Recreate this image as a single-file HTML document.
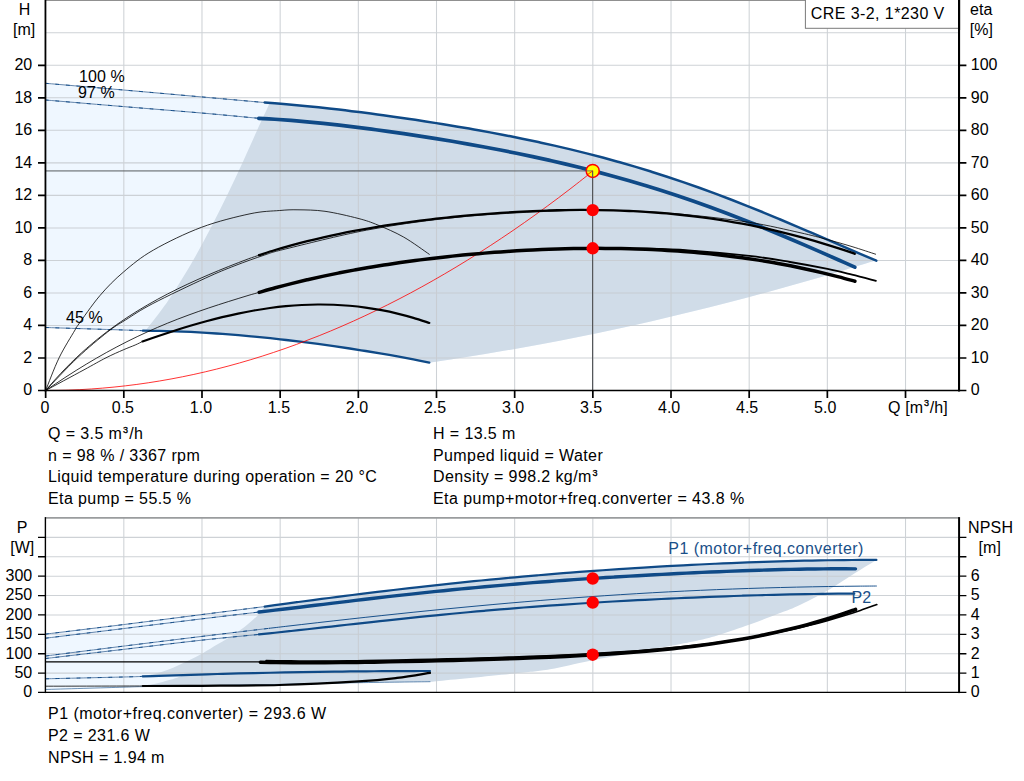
<!DOCTYPE html>
<html><head><meta charset="utf-8"><title>CRE 3-2 pump curve</title>
<style>
html,body{margin:0;padding:0;background:#fff;}
body{width:1024px;height:781px;overflow:hidden;font-family:"Liberation Sans",sans-serif;}
svg{display:block;}
</style></head><body>
<svg width="1024" height="781" viewBox="0 0 1024 781" font-family="'Liberation Sans', sans-serif" font-size="16" fill="#000">
<rect width="1024" height="781" fill="#fff"/>
<path d="M45.5 83.3C58.5 84.42 97.52 87.73 123.5 90C149.48 92.27 177.87 94.81 201.4 96.9C224.93 98.99 254.15 101.61 264.7 102.55L264.7 102.55C267.38 102.75 275.43 103.32 280.79 103.75C286.16 104.18 291.52 104.65 296.89 105.15C302.25 105.65 307.62 106.18 312.98 106.74C318.35 107.29 323.71 107.87 329.08 108.48C334.44 109.08 339.81 109.71 345.17 110.35C350.54 111 355.9 111.67 361.27 112.35C366.63 113.04 372 113.75 377.36 114.47C382.73 115.19 388.09 115.93 393.46 116.69C398.82 117.45 404.19 118.22 409.55 119.02C414.92 119.81 420.28 120.62 425.65 121.45C431.01 122.28 436.38 123.13 441.74 124C447.11 124.86 452.47 125.75 457.84 126.66C463.2 127.56 468.57 128.49 473.93 129.44C479.3 130.39 484.66 131.37 490.03 132.36C495.39 133.36 500.76 134.38 506.12 135.43C511.49 136.48 516.85 137.55 522.22 138.65C527.58 139.75 532.95 140.88 538.31 142.05C543.68 143.21 549.04 144.4 554.41 145.62C559.77 146.85 565.14 148.1 570.5 149.4C575.86 150.69 581.23 152.01 586.59 153.38C591.96 154.74 597.32 156.14 602.69 157.57C608.05 159.01 613.42 160.49 618.78 162C624.15 163.52 629.51 165.07 634.88 166.66C640.24 168.26 645.61 169.89 650.97 171.57C656.34 173.25 661.7 174.96 667.07 176.72C672.43 178.48 677.8 180.28 683.16 182.12C688.53 183.96 693.89 185.84 699.26 187.76C704.62 189.67 709.99 191.63 715.35 193.63C720.72 195.63 726.08 197.66 731.45 199.73C736.81 201.8 742.18 203.91 747.54 206.05C752.91 208.19 758.27 210.36 763.64 212.56C769 214.75 774.37 216.98 779.73 219.23C785.1 221.48 790.46 223.76 795.83 226.04C801.19 228.33 806.56 230.64 811.92 232.96C817.29 235.27 822.65 237.61 828.02 239.93C833.38 242.26 838.75 244.6 844.11 246.92C849.48 249.24 854.84 251.57 860.21 253.86C865.57 256.16 873.62 259.56 876.3 260.7L876.28 260.23C870.08 262.13 851.45 267.93 839.04 271.65C826.62 275.37 814.2 279 801.79 282.55C789.37 286.09 776.96 289.55 764.54 292.92C752.12 296.29 739.71 299.57 727.29 302.77C714.88 305.97 702.46 309.08 690.04 312.1C677.63 315.12 665.21 318.05 652.8 320.9C640.38 323.75 627.96 326.5 615.55 329.18C603.13 331.85 590.72 334.43 578.3 336.93C565.88 339.43 553.47 341.84 541.05 344.16C528.64 346.48 516.22 348.72 503.8 350.87C491.39 353.02 478.97 355.08 466.56 357.05C454.14 359.02 435.52 361.76 429.31 362.71L429.3 362.59C426.65 362.06 418.7 360.46 413.39 359.44C408.09 358.42 402.79 357.43 397.49 356.47C392.19 355.5 386.89 354.57 381.58 353.66C376.28 352.75 370.98 351.87 365.68 351.01C360.38 350.15 355.07 349.32 349.77 348.51C344.47 347.7 339.17 346.92 333.87 346.16C328.56 345.4 323.26 344.67 317.96 343.96C312.66 343.25 307.36 342.56 302.06 341.9C296.75 341.24 291.45 340.6 286.15 339.99C280.85 339.37 275.55 338.79 270.24 338.23C264.94 337.67 259.64 337.13 254.34 336.62C249.04 336.12 243.74 335.64 238.43 335.19C233.13 334.73 227.83 334.31 222.53 333.92C217.23 333.53 211.92 333.17 206.62 332.85C201.32 332.52 196.02 332.23 190.72 331.97C185.41 331.71 180.11 331.49 174.81 331.31C169.51 331.13 164.21 330.98 158.91 330.88C153.6 330.78 145.65 330.74 143 330.71L143 330.71C139.75 330.59 139.75 330.53 123.5 330C107.25 329.47 58.5 327.92 45.5 327.5Z" fill="#eff7ff"/>
<path d="M268.9 102.7C270.88 102.87 276.13 103.34 280.79 103.75C285.46 104.16 291.52 104.65 296.89 105.15C302.25 105.65 307.62 106.18 312.98 106.74C318.35 107.29 323.71 107.87 329.08 108.48C334.44 109.08 339.81 109.71 345.17 110.35C350.54 111 355.9 111.67 361.27 112.35C366.63 113.04 372 113.75 377.36 114.47C382.73 115.19 388.09 115.93 393.46 116.69C398.82 117.45 404.19 118.22 409.55 119.02C414.92 119.81 420.28 120.62 425.65 121.45C431.01 122.28 436.38 123.13 441.74 124C447.11 124.86 452.47 125.75 457.84 126.66C463.2 127.56 468.57 128.49 473.93 129.44C479.3 130.39 484.66 131.37 490.03 132.36C495.39 133.36 500.76 134.38 506.12 135.43C511.49 136.48 516.85 137.55 522.22 138.65C527.58 139.75 532.95 140.88 538.31 142.05C543.68 143.21 549.04 144.4 554.41 145.62C559.77 146.85 565.14 148.1 570.5 149.4C575.86 150.69 581.23 152.01 586.59 153.38C591.96 154.74 597.32 156.14 602.69 157.57C608.05 159.01 613.42 160.49 618.78 162C624.15 163.52 629.51 165.07 634.88 166.66C640.24 168.26 645.61 169.89 650.97 171.57C656.34 173.25 661.7 174.96 667.07 176.72C672.43 178.48 677.8 180.28 683.16 182.12C688.53 183.96 693.89 185.84 699.26 187.76C704.62 189.67 709.99 191.63 715.35 193.63C720.72 195.63 726.08 197.66 731.45 199.73C736.81 201.8 742.18 203.91 747.54 206.05C752.91 208.19 758.27 210.36 763.64 212.56C769 214.75 774.37 216.98 779.73 219.23C785.1 221.48 790.46 223.76 795.83 226.04C801.19 228.33 806.56 230.64 811.92 232.96C817.29 235.27 822.65 237.61 828.02 239.93C833.38 242.26 838.75 244.6 844.11 246.92C849.48 249.24 854.84 251.57 860.21 253.86C865.57 256.16 873.62 259.56 876.3 260.7L876.28 260.23C870.08 262.13 851.45 267.93 839.04 271.65C826.62 275.37 814.2 279 801.79 282.55C789.37 286.09 776.96 289.55 764.54 292.92C752.12 296.29 739.71 299.57 727.29 302.77C714.88 305.97 702.46 309.08 690.04 312.1C677.63 315.12 665.21 318.05 652.8 320.9C640.38 323.75 627.96 326.5 615.55 329.18C603.13 331.85 590.72 334.43 578.3 336.93C565.88 339.43 553.47 341.84 541.05 344.16C528.64 346.48 516.22 348.72 503.8 350.87C491.39 353.02 478.97 355.08 466.56 357.05C454.14 359.02 435.52 361.76 429.31 362.71L429.3 362.59C426.65 362.06 418.7 360.46 413.39 359.44C408.09 358.42 402.79 357.43 397.49 356.47C392.19 355.5 386.89 354.57 381.58 353.66C376.28 352.75 370.98 351.87 365.68 351.01C360.38 350.15 355.07 349.32 349.77 348.51C344.47 347.7 339.17 346.92 333.87 346.16C328.56 345.4 323.26 344.67 317.96 343.96C312.66 343.25 307.36 342.56 302.06 341.9C296.75 341.24 291.45 340.6 286.15 339.99C280.85 339.37 275.55 338.79 270.24 338.23C264.94 337.67 259.64 337.13 254.34 336.62C249.04 336.12 243.74 335.64 238.43 335.19C233.13 334.73 227.83 334.31 222.53 333.92C217.23 333.53 211.92 333.17 206.62 332.85C201.32 332.52 196.02 332.23 190.72 331.97C185.41 331.71 180.11 331.49 174.81 331.31C169.51 331.13 163.77 330.98 158.91 330.88C154.04 330.78 147.82 330.73 145.6 330.7L145.4 330.8C147.77 327.75 154.95 318.8 159.6 312.5C164.25 306.2 167.73 301.67 173.3 293C178.88 284.33 186.82 271.33 193.05 260.5C199.28 249.67 205.04 238.83 210.7 228C216.36 217.17 221.72 206.33 227 195.5C232.28 184.67 237.39 173.83 242.4 163C247.41 152.17 252.73 139.98 257.05 130.5C261.37 121.02 266.33 110.65 268.3 106.1C270.27 101.55 268.8 103.68 268.9 103.2Z" fill="#d0dce8"/>
<path d="M45.6 634.1C58.55 632.52 97.32 627.85 123.3 624.6C149.28 621.35 177.93 617.61 201.5 614.6C225.07 611.59 254.17 607.9 264.7 606.56L264.7 686L270 684.6C258.58 684.77 222.6 685.27 201.5 685.6C180.4 685.93 156.43 686.33 143.4 686.6C130.37 686.87 139.6 686.72 123.3 687.2C107 687.68 58.55 689.12 45.6 689.5Z" fill="#eff7ff"/>
<path d="M264.7 606.56C267.38 606.19 275.43 605.1 280.8 604.38C286.16 603.65 291.53 602.93 296.89 602.21C302.26 601.5 307.63 600.78 312.99 600.08C318.36 599.37 323.72 598.67 329.09 597.97C334.46 597.28 339.82 596.59 345.19 595.91C350.55 595.23 355.92 594.55 361.28 593.89C366.65 593.22 372.02 592.56 377.38 591.91C382.75 591.26 388.11 590.62 393.48 589.99C398.84 589.35 404.21 588.73 409.58 588.11C414.94 587.5 420.31 586.89 425.67 586.3C431.04 585.7 436.41 585.12 441.77 584.54C447.14 583.96 452.5 583.4 457.87 582.84C463.23 582.28 468.6 581.74 473.97 581.2C479.33 580.66 484.7 580.14 490.06 579.62C495.43 579.1 500.79 578.6 506.16 578.1C511.53 577.6 516.89 577.12 522.26 576.64C527.62 576.17 532.99 575.7 538.36 575.24C543.72 574.79 549.09 574.34 554.45 573.9C559.82 573.47 565.18 573.04 570.55 572.63C575.92 572.21 581.28 571.8 586.65 571.41C592.01 571.01 597.38 570.62 602.74 570.24C608.11 569.87 613.48 569.5 618.84 569.14C624.21 568.78 629.57 568.43 634.94 568.09C640.31 567.75 645.67 567.43 651.04 567.11C656.4 566.79 661.77 566.47 667.13 566.17C672.5 565.87 677.87 565.58 683.23 565.3C688.6 565.02 693.96 564.75 699.33 564.48C704.69 564.22 710.06 563.97 715.43 563.73C720.79 563.48 726.16 563.25 731.52 563.03C736.89 562.81 742.26 562.6 747.62 562.4C752.99 562.19 758.35 562 763.72 561.82C769.08 561.65 774.45 561.48 779.82 561.32C785.18 561.17 790.55 561.02 795.91 560.89C801.28 560.76 806.64 560.64 812.01 560.53C817.38 560.42 822.74 560.33 828.11 560.25C833.47 560.17 838.84 560.11 844.21 560.06C849.57 560.01 854.94 559.97 860.3 559.96C865.67 559.94 873.72 559.95 876.4 559.95L876.4 559.9C872.92 562.05 863.68 567.65 855.5 572.8C847.32 577.95 836.93 585.27 827.3 590.8C817.67 596.33 805.9 602.17 797.7 606C789.5 609.83 786.08 610.73 778.1 613.8C770.12 616.87 759.57 620.92 749.8 624.4C740.03 627.88 727.8 632.1 719.5 634.7C711.2 637.3 708.1 638.15 700 640C691.9 641.85 688.78 642.43 670.9 645.8C653.02 649.17 612.85 656.28 592.7 660.2C572.55 664.12 563.03 667.08 550 669.3C536.97 671.52 533.45 671.52 514.5 673.5C495.55 675.48 450.38 679.82 436.3 681.2C422.22 682.58 431.05 681.7 430 681.8L430 681.7C418.07 681.87 385.07 682.22 358.4 682.7C331.73 683.18 296.15 684.12 270 684.6C243.85 685.08 222.6 685.27 201.5 685.6C180.4 685.93 153.08 686.43 143.4 686.6L143.4 686.6C146.07 685.97 154.77 683.97 159.4 682.8C164.03 681.63 167.28 680.83 171.2 679.6C175.12 678.37 180.95 676.1 182.9 675.4L182.9 675.4C176.22 675.57 149.48 676.23 142.8 676.4L142.8 676.4C144.92 675.93 151.43 674.65 155.5 673.6C159.57 672.55 163.33 671.53 167.25 670.1C171.17 668.67 175.09 666.77 179 665C182.91 663.23 186.67 661.5 190.7 659.5C194.73 657.5 198.65 655.57 203.2 653C207.75 650.43 212.78 647.23 218 644.1C223.22 640.97 229.58 637.45 234.5 634.2C239.42 630.95 243.5 627.87 247.5 624.6C251.5 621.33 255.63 617.62 258.5 614.6C261.37 611.58 263.67 607.85 264.7 606.5Z" fill="#d0dce8"/>
<path d="M123.82 0V390.5M123.82 517.9V692.5M201.99 0V390.5M201.99 517.9V692.5M280.16 0V390.5M280.16 517.9V692.5M358.33 0V390.5M358.33 517.9V692.5M436.5 0V390.5M436.5 517.9V692.5M514.67 0V390.5M514.67 517.9V692.5M592.84 0V390.5M592.84 517.9V692.5M671.01 0V390.5M671.01 517.9V692.5M749.18 0V390.5M749.18 517.9V692.5M827.35 0V390.5M827.35 517.9V692.5M905.52 0V390.5M905.52 517.9V692.5M45.65 357.98H959M45.65 325.46H959M45.65 292.94H959M45.65 260.42H959M45.65 227.9H959M45.65 195.38H959M45.65 162.86H959M45.65 130.34H959M45.65 97.82H959M45.65 65.3H959M45.65 32.78H959M45.65 673.11H959M45.65 653.72H959M45.65 634.33H959M45.65 614.94H959M45.65 595.55H959M45.65 576.16H959M45.65 556.77H959M45.65 537.38H959" stroke="#c6cbcf" stroke-width="1.05" fill="none" opacity="0.86"/>
<path d="M45.65 170.85H592.6" stroke="#5c6064" stroke-opacity="0.6" stroke-width="1.6" fill="none"/>
<path d="M592.6 170.85V390.5" stroke="#54575a" stroke-width="1.2" fill="none"/>
<path d="M45.5 83.3C58.5 84.42 97.52 87.73 123.5 90C149.48 92.27 177.87 94.81 201.4 96.9C224.93 98.99 254.15 101.61 264.7 102.55" stroke="#5d7fa8" stroke-width="0.95" fill="none" stroke-linecap="round" stroke-linejoin="round"/>
<path d="M45.5 83.3C58.5 84.42 97.52 87.73 123.5 90C149.48 92.27 177.87 94.81 201.4 96.9C224.93 98.99 254.15 101.61 264.7 102.55" stroke="#0f4a87" stroke-width="0.95" fill="none" stroke-linecap="round" stroke-linejoin="round" stroke-dasharray="3 7.5"/>
<path d="M45.5 100C58.5 101.1 97.52 104.43 123.5 106.6C149.48 108.77 178.85 111.04 201.4 113C223.95 114.96 249.23 117.44 258.8 118.33" stroke="#5d7fa8" stroke-width="0.95" fill="none" stroke-linecap="round" stroke-linejoin="round"/>
<path d="M45.5 100C58.5 101.1 97.52 104.43 123.5 106.6C149.48 108.77 178.85 111.04 201.4 113C223.95 114.96 249.23 117.44 258.8 118.33" stroke="#0f4a87" stroke-width="0.95" fill="none" stroke-linecap="round" stroke-linejoin="round" stroke-dasharray="3 7.5"/>
<path d="M45.5 327.5C58.5 327.92 107.25 329.47 123.5 330C139.75 330.53 139.75 330.59 143 330.71" stroke="#5d7fa8" stroke-width="0.95" fill="none" stroke-linecap="round" stroke-linejoin="round"/>
<path d="M45.5 327.5C58.5 327.92 107.25 329.47 123.5 330C139.75 330.53 139.75 330.59 143 330.71" stroke="#0f4a87" stroke-width="0.95" fill="none" stroke-linecap="round" stroke-linejoin="round" stroke-dasharray="3 7.5"/>
<path d="M264.7 102.55C267.38 102.75 275.43 103.32 280.79 103.75C286.16 104.18 291.52 104.65 296.89 105.15C302.25 105.65 307.62 106.18 312.98 106.74C318.35 107.29 323.71 107.87 329.08 108.48C334.44 109.08 339.81 109.71 345.17 110.35C350.54 111 355.9 111.67 361.27 112.35C366.63 113.04 372 113.75 377.36 114.47C382.73 115.19 388.09 115.93 393.46 116.69C398.82 117.45 404.19 118.22 409.55 119.02C414.92 119.81 420.28 120.62 425.65 121.45C431.01 122.28 436.38 123.13 441.74 124C447.11 124.86 452.47 125.75 457.84 126.66C463.2 127.56 468.57 128.49 473.93 129.44C479.3 130.39 484.66 131.37 490.03 132.36C495.39 133.36 500.76 134.38 506.12 135.43C511.49 136.48 516.85 137.55 522.22 138.65C527.58 139.75 532.95 140.88 538.31 142.05C543.68 143.21 549.04 144.4 554.41 145.62C559.77 146.85 565.14 148.1 570.5 149.4C575.86 150.69 581.23 152.01 586.59 153.38C591.96 154.74 597.32 156.14 602.69 157.57C608.05 159.01 613.42 160.49 618.78 162C624.15 163.52 629.51 165.07 634.88 166.66C640.24 168.26 645.61 169.89 650.97 171.57C656.34 173.25 661.7 174.96 667.07 176.72C672.43 178.48 677.8 180.28 683.16 182.12C688.53 183.96 693.89 185.84 699.26 187.76C704.62 189.67 709.99 191.63 715.35 193.63C720.72 195.63 726.08 197.66 731.45 199.73C736.81 201.8 742.18 203.91 747.54 206.05C752.91 208.19 758.27 210.36 763.64 212.56C769 214.75 774.37 216.98 779.73 219.23C785.1 221.48 790.46 223.76 795.83 226.04C801.19 228.33 806.56 230.64 811.92 232.96C817.29 235.27 822.65 237.61 828.02 239.93C833.38 242.26 838.75 244.6 844.11 246.92C849.48 249.24 854.84 251.57 860.21 253.86C865.57 256.16 873.62 259.56 876.3 260.7" stroke="#0f4a87" stroke-width="2.5" fill="none" stroke-linecap="round" stroke-linejoin="round"/>
<path d="M258.8 118.33C261.48 118.49 269.54 118.91 274.91 119.26C280.28 119.61 285.65 120.01 291.02 120.44C296.39 120.87 301.75 121.34 307.12 121.84C312.49 122.34 317.86 122.88 323.23 123.44C328.6 124 333.97 124.59 339.34 125.2C344.71 125.82 350.08 126.46 355.45 127.12C360.82 127.78 366.19 128.47 371.56 129.17C376.93 129.88 382.3 130.61 387.66 131.36C393.03 132.11 398.4 132.87 403.77 133.66C409.14 134.45 414.51 135.26 419.88 136.08C425.25 136.91 430.62 137.76 435.99 138.62C441.36 139.49 446.73 140.38 452.1 141.28C457.47 142.19 462.84 143.12 468.21 144.07C473.57 145.02 478.94 145.99 484.31 146.99C489.68 147.98 495.05 149 500.42 150.04C505.79 151.09 511.16 152.15 516.53 153.25C521.9 154.34 527.27 155.46 532.64 156.62C538.01 157.77 543.38 158.94 548.75 160.15C554.12 161.36 559.48 162.6 564.85 163.87C570.22 165.14 575.59 166.44 580.96 167.78C586.33 169.12 591.7 170.49 597.07 171.89C602.44 173.3 607.81 174.74 613.18 176.22C618.55 177.7 623.92 179.21 629.29 180.77C634.66 182.32 640.03 183.92 645.39 185.55C650.76 187.18 656.13 188.85 661.5 190.56C666.87 192.27 672.24 194.02 677.61 195.81C682.98 197.6 688.35 199.43 693.72 201.3C699.09 203.17 704.46 205.08 709.83 207.03C715.2 208.98 720.57 210.97 725.94 212.99C731.3 215.02 736.67 217.08 742.04 219.18C747.41 221.28 752.78 223.41 758.15 225.58C763.52 227.74 768.89 229.94 774.26 232.17C779.63 234.4 785 236.66 790.37 238.94C795.74 241.22 801.11 243.53 806.48 245.86C811.85 248.18 817.21 250.53 822.58 252.89C827.95 255.25 833.32 257.63 838.69 260.01C844.06 262.39 852.12 265.97 854.8 267.17" stroke="#0f4a87" stroke-width="3.7" fill="none" stroke-linecap="round" stroke-linejoin="round"/>
<path d="M143 330.71C145.65 330.74 153.6 330.78 158.91 330.88C164.21 330.98 169.51 331.13 174.81 331.31C180.11 331.49 185.41 331.71 190.72 331.97C196.02 332.23 201.32 332.52 206.62 332.85C211.92 333.17 217.23 333.53 222.53 333.92C227.83 334.31 233.13 334.73 238.43 335.19C243.74 335.64 249.04 336.12 254.34 336.62C259.64 337.13 264.94 337.67 270.24 338.23C275.55 338.79 280.85 339.37 286.15 339.99C291.45 340.6 296.75 341.24 302.06 341.9C307.36 342.56 312.66 343.25 317.96 343.96C323.26 344.67 328.56 345.4 333.87 346.16C339.17 346.92 344.47 347.7 349.77 348.51C355.07 349.32 360.38 350.15 365.68 351.01C370.98 351.87 376.28 352.75 381.58 353.66C386.89 354.57 392.19 355.5 397.49 356.47C402.79 357.43 408.09 358.42 413.39 359.44C418.7 360.46 426.65 362.06 429.3 362.59" stroke="#0f4a87" stroke-width="2.3" fill="none" stroke-linecap="round" stroke-linejoin="round"/>
<path d="M45.65 390.5C49.45 390.44 60.85 390.37 68.45 390.12C76.05 389.87 83.65 389.48 91.25 388.98C98.85 388.47 106.45 387.83 114.05 387.07C121.65 386.31 129.25 385.42 136.85 384.41C144.45 383.39 152.05 382.25 159.65 380.98C167.25 379.71 174.85 378.31 182.45 376.79C190.05 375.27 197.65 373.62 205.25 371.84C212.85 370.06 220.45 368.16 228.05 366.12C235.65 364.09 243.25 361.94 250.85 359.65C258.45 357.37 266.05 354.95 273.65 352.41C281.25 349.88 288.85 347.21 296.45 344.42C304.05 341.62 311.65 338.7 319.25 335.66C326.84 332.61 334.44 329.44 342.04 326.13C349.64 322.83 357.24 319.41 364.84 315.85C372.44 312.3 380.04 308.62 387.64 304.81C395.24 301 402.84 297.06 410.44 293C418.04 288.94 425.64 284.75 433.24 280.43C440.84 276.12 448.44 271.67 456.04 267.1C463.64 262.53 471.24 257.83 478.84 253.01C486.44 248.19 494.04 243.23 501.64 238.16C509.24 233.08 516.84 227.87 524.44 222.54C532.04 217.21 539.64 211.75 547.24 206.16C554.84 200.58 562.44 194.87 570.04 189.03C577.64 183.19 589.04 174.11 592.84 171.13" stroke="#ff0000" stroke-width="0.8" fill="none" stroke-linecap="round" stroke-linejoin="round"/>
<path d="M45.65 390.5C47.89 385.05 54.21 367.88 59.1 357.8C63.99 347.72 71.88 335.4 75 330C78.12 324.6 73.63 331.15 77.8 325.4C81.97 319.65 92.38 304.4 100 295.5C107.62 286.6 114.58 279.58 123.5 272C132.42 264.42 140.5 257.45 153.5 250C166.5 242.55 185.42 233.33 201.5 227.3C217.58 221.27 236.97 216.6 250 213.8C263.03 211 271.7 211.17 279.7 210.5C287.7 209.83 290.45 209.67 298 209.8C305.55 209.93 314.98 209.87 325 211.3C335.02 212.73 349.27 216.1 358.1 218.4C366.93 220.7 370.4 221.98 378 225.1C385.6 228.22 395.15 232.23 403.7 237.1C412.25 241.97 425.03 251.43 429.3 254.3" stroke="#000" stroke-width="0.8" fill="none" stroke-linecap="round" stroke-linejoin="round"/>
<path d="M45.65 390.5C52.04 387.05 73.94 375.25 84 369.8C94.06 364.35 99.43 361.13 106 357.8C112.57 354.47 118.53 351.93 123.4 349.8C128.27 347.67 132.02 346.39 135.2 345C138.38 343.61 141.28 342.06 142.5 341.47" stroke="#000" stroke-width="0.8" fill="none" stroke-linecap="round" stroke-linejoin="round"/>
<path d="M142.5 341.47C145.16 340.55 153.12 337.75 158.43 335.95C163.74 334.16 169.06 332.4 174.37 330.7C179.68 329.01 184.99 327.35 190.3 325.78C195.61 324.2 200.92 322.68 206.23 321.24C211.54 319.8 216.86 318.43 222.17 317.15C227.48 315.87 232.79 314.66 238.1 313.55C243.41 312.44 248.72 311.41 254.03 310.49C259.34 309.57 264.66 308.74 269.97 308.02C275.28 307.3 280.59 306.67 285.9 306.17C291.21 305.67 296.52 305.27 301.83 304.99C307.14 304.71 312.46 304.55 317.77 304.51C323.08 304.47 328.39 304.55 333.7 304.76C339.01 304.97 344.32 305.31 349.63 305.77C354.94 306.24 360.26 306.83 365.57 307.57C370.88 308.3 376.19 309.16 381.5 310.16C386.81 311.16 392.12 312.3 397.43 313.58C402.74 314.86 408.06 316.27 413.37 317.83C418.68 319.39 426.64 322.08 429.3 322.93" stroke="#000" stroke-width="2.2" fill="none" stroke-linecap="round" stroke-linejoin="round"/>
<path d="M45.65 390.5C50.94 385.05 67.09 367.55 77.41 357.8C87.74 348.05 99.58 338.3 107.59 332C115.59 325.7 117.92 324.73 125.45 320C132.97 315.27 139.44 310.57 152.75 303.6C166.06 296.63 191.61 284.52 205.3 278.2C218.98 271.88 224.97 269.57 234.85 265.7C244.74 261.83 256.12 257.8 264.62 255C273.12 252.2 268.91 253.03 285.86 248.9C302.81 244.77 339.56 235.28 366.33 230.2C393.1 225.12 419.73 221.38 446.48 218.4C473.24 215.42 500.07 213.68 526.85 212.3C553.62 210.92 581.58 209.8 607.1 210.1C632.63 210.4 656.32 212.07 680 214.1C703.68 216.13 729.2 219.2 749.2 222.3C769.2 225.4 786.95 229.82 800 232.7C813.05 235.58 818.83 237.28 827.5 239.6C836.17 241.92 843.98 244.17 852 246.6C860.02 249.03 871.67 252.93 875.6 254.2" stroke="#000" stroke-width="0.8" fill="none" stroke-linecap="round" stroke-linejoin="round"/>
<path d="M45.65 390.5C47.34 388.55 52.42 382.58 55.81 378.81C59.2 375.05 62.58 371.42 65.97 367.93C69.36 364.44 72.74 361.1 76.13 357.88C79.52 354.65 82.9 351.56 86.29 348.58C89.67 345.59 93.06 342.73 96.45 339.96C99.83 337.19 103.22 334.54 106.61 331.97C109.99 329.4 113.38 326.93 116.77 324.54C120.15 322.15 123.54 319.85 126.93 317.62C130.31 315.39 133.7 313.24 137.09 311.15C140.47 309.06 143.86 307.05 147.25 305.09C150.63 303.13 154.02 301.23 157.4 299.38C160.79 297.53 164.18 295.75 167.56 294C170.95 292.25 174.34 290.55 177.72 288.89C181.11 287.23 184.5 285.62 187.88 284.04C191.27 282.45 194.66 280.91 198.04 279.4C201.43 277.88 204.82 276.4 208.2 274.95C211.59 273.49 214.98 272.07 218.36 270.67C221.75 269.27 225.13 267.89 228.52 266.54C231.91 265.19 235.29 263.86 238.68 262.55C242.07 261.24 245.45 259.9 248.84 258.68C252.23 257.45 257.31 255.78 259 255.2" stroke="#000" stroke-width="0.8" fill="none" stroke-linecap="round" stroke-linejoin="round"/>
<path d="M259 255.2C261.68 254.34 269.74 251.65 275.1 250.01C280.47 248.36 285.84 246.81 291.21 245.32C296.57 243.84 301.94 242.43 307.31 241.09C312.68 239.75 318.04 238.48 323.41 237.26C328.78 236.05 334.15 234.9 339.51 233.79C344.88 232.69 350.25 231.65 355.62 230.65C360.98 229.64 366.35 228.7 371.72 227.79C377.09 226.87 382.45 226.01 387.82 225.18C393.19 224.36 398.56 223.57 403.92 222.82C409.29 222.07 414.66 221.36 420.03 220.67C425.39 219.99 430.76 219.35 436.13 218.73C441.5 218.12 446.86 217.54 452.23 216.99C457.6 216.44 462.97 215.92 468.34 215.43C473.7 214.94 479.07 214.49 484.44 214.06C489.81 213.64 495.17 213.24 500.54 212.88C505.91 212.52 511.28 212.18 516.64 211.89C522.01 211.59 527.38 211.32 532.75 211.09C538.11 210.86 543.48 210.66 548.85 210.5C554.22 210.33 559.58 210.21 564.95 210.12C570.32 210.03 575.69 209.97 581.05 209.96C586.42 209.95 591.79 209.98 597.16 210.05C602.52 210.11 607.89 210.22 613.26 210.38C618.63 210.53 623.99 210.73 629.36 210.98C634.73 211.22 640.1 211.51 645.46 211.85C650.83 212.19 656.2 212.58 661.57 213.02C666.94 213.47 672.3 213.96 677.67 214.5C683.04 215.05 688.41 215.65 693.77 216.3C699.14 216.96 704.51 217.66 709.88 218.43C715.24 219.2 720.61 220.02 725.98 220.91C731.35 221.79 736.71 222.73 742.08 223.74C747.45 224.74 752.82 225.8 758.18 226.93C763.55 228.05 768.92 229.24 774.29 230.49C779.65 231.74 785.02 233.05 790.39 234.42C795.76 235.79 801.12 237.22 806.49 238.72C811.86 240.21 817.23 241.77 822.59 243.38C827.96 245 833.33 246.68 838.7 248.41C844.06 250.14 852.12 252.89 854.8 253.79" stroke="#000" stroke-width="2.3" fill="none" stroke-linecap="round" stroke-linejoin="round"/>
<path d="M600 248.3C606.67 248.35 625.3 248.27 640 248.6C654.7 248.93 669.97 249.08 688.2 250.3C706.43 251.52 732.43 253.95 749.4 255.9C766.37 257.85 776.98 259.83 790 262C803.02 264.17 817.17 266.8 827.5 268.9C837.83 271 843.93 272.62 852 274.6C860.07 276.58 871.92 279.77 875.9 280.8" stroke="#000" stroke-width="1.8" fill="none" stroke-linecap="round" stroke-linejoin="round"/>
<path d="M45.65 390.5C47.34 389.36 52.43 385.9 55.82 383.63C59.21 381.37 62.6 379.11 65.99 376.91C69.38 374.7 72.77 372.53 76.16 370.41C79.55 368.28 82.94 366.2 86.33 364.15C89.72 362.11 93.11 360.1 96.5 358.14C99.88 356.18 103.27 354.26 106.66 352.38C110.05 350.51 113.44 348.67 116.83 346.88C120.22 345.09 123.61 343.34 127 341.64C130.39 339.93 133.78 338.27 137.17 336.65C140.56 335.03 143.95 333.45 147.34 331.91C150.73 330.37 154.12 328.87 157.51 327.41C160.9 325.95 164.29 324.53 167.68 323.14C171.07 321.76 174.46 320.41 177.85 319.09C181.24 317.78 184.63 316.5 188.02 315.25C191.41 313.99 194.8 312.78 198.19 311.58C201.58 310.39 204.97 309.23 208.35 308.09C211.74 306.94 215.13 305.83 218.52 304.73C221.91 303.62 225.3 302.55 228.69 301.48C232.08 300.41 235.47 299.36 238.86 298.32C242.25 297.27 245.64 296.2 249.03 295.21C252.42 294.21 257.51 292.82 259.2 292.34" stroke="#000" stroke-width="0.8" fill="none" stroke-linecap="round" stroke-linejoin="round"/>
<path d="M259.2 292.34C261.88 291.58 269.93 289.25 275.3 287.79C280.67 286.33 286.03 284.94 291.4 283.59C296.77 282.25 302.13 280.96 307.5 279.71C312.87 278.47 318.23 277.28 323.6 276.14C328.97 274.99 334.33 273.89 339.7 272.83C345.07 271.77 350.43 270.76 355.8 269.79C361.17 268.81 366.53 267.88 371.9 266.98C377.27 266.09 382.63 265.23 388 264.4C393.37 263.58 398.73 262.79 404.1 262.04C409.47 261.28 414.83 260.57 420.2 259.88C425.57 259.19 430.93 258.53 436.3 257.91C441.67 257.29 447.03 256.69 452.4 256.13C457.77 255.57 463.13 255.04 468.5 254.54C473.87 254.04 479.23 253.57 484.6 253.12C489.97 252.68 495.33 252.27 500.7 251.89C506.07 251.51 511.43 251.16 516.8 250.84C522.17 250.52 527.53 250.22 532.9 249.96C538.27 249.7 543.63 249.47 549 249.27C554.37 249.08 559.73 248.91 565.1 248.77C570.47 248.64 575.83 248.54 581.2 248.47C586.57 248.4 591.93 248.36 597.3 248.36C602.67 248.36 608.03 248.39 613.4 248.46C618.77 248.53 624.13 248.63 629.5 248.77C634.87 248.91 640.23 249.09 645.6 249.31C650.97 249.52 656.33 249.78 661.7 250.08C667.07 250.37 672.43 250.71 677.8 251.09C683.17 251.47 688.53 251.88 693.9 252.35C699.27 252.81 704.63 253.32 710 253.88C715.37 254.43 720.73 255.03 726.1 255.68C731.47 256.32 736.83 257.02 742.2 257.76C747.57 258.51 752.93 259.3 758.3 260.14C763.67 260.99 769.03 261.88 774.4 262.83C779.77 263.78 785.13 264.78 790.5 265.83C795.87 266.89 801.23 268 806.6 269.17C811.97 270.34 817.33 271.56 822.7 272.84C828.07 274.12 833.43 275.46 838.8 276.86C844.17 278.26 852.22 280.51 854.9 281.24" stroke="#000" stroke-width="3.5" fill="none" stroke-linecap="round" stroke-linejoin="round"/>
<path d="M45.6 634.1C58.55 632.52 97.32 627.85 123.3 624.6C149.28 621.35 177.93 617.61 201.5 614.6C225.07 611.59 254.17 607.9 264.7 606.56" stroke="#5d7fa8" stroke-width="0.95" fill="none" stroke-linecap="round" stroke-linejoin="round"/>
<path d="M45.6 634.1C58.55 632.52 97.32 627.85 123.3 624.6C149.28 621.35 177.93 617.61 201.5 614.6C225.07 611.59 254.17 607.9 264.7 606.56" stroke="#0f4a87" stroke-width="0.95" fill="none" stroke-linecap="round" stroke-linejoin="round" stroke-dasharray="3 7.5"/>
<path d="M45.6 638.2C58.55 636.6 97.32 631.82 123.3 628.6C149.28 625.38 178.9 621.66 201.5 618.9C224.1 616.14 249.33 613.19 258.9 612.05" stroke="#5d7fa8" stroke-width="0.95" fill="none" stroke-linecap="round" stroke-linejoin="round"/>
<path d="M45.6 638.2C58.55 636.6 97.32 631.82 123.3 628.6C149.28 625.38 178.9 621.66 201.5 618.9C224.1 616.14 249.33 613.19 258.9 612.05" stroke="#0f4a87" stroke-width="0.95" fill="none" stroke-linecap="round" stroke-linejoin="round" stroke-dasharray="3 7.5"/>
<path d="M45.6 656.04C48.26 655.69 56.25 654.66 61.58 653.98C66.9 653.29 72.23 652.61 77.55 651.93C82.88 651.25 88.21 650.58 93.53 649.9C98.86 649.22 104.18 648.55 109.51 647.88C114.83 647.21 120.16 646.54 125.48 645.87C130.81 645.2 136.14 644.53 141.46 643.87C146.79 643.2 152.11 642.54 157.44 641.88C162.76 641.22 168.09 640.56 173.42 639.9C178.74 639.24 184.07 638.59 189.39 637.93C194.72 637.28 200.04 636.63 205.37 635.98C210.69 635.33 216.02 634.68 221.35 634.04C226.67 633.39 232 632.75 237.32 632.11C242.65 631.47 247.97 630.83 253.3 630.2C258.63 629.56 266.61 628.62 269.28 628.3" stroke="#5d7fa8" stroke-width="0.95" fill="none" stroke-linecap="round" stroke-linejoin="round"/>
<path d="M45.6 656.04C48.26 655.69 56.25 654.66 61.58 653.98C66.9 653.29 72.23 652.61 77.55 651.93C82.88 651.25 88.21 650.58 93.53 649.9C98.86 649.22 104.18 648.55 109.51 647.88C114.83 647.21 120.16 646.54 125.48 645.87C130.81 645.2 136.14 644.53 141.46 643.87C146.79 643.2 152.11 642.54 157.44 641.88C162.76 641.22 168.09 640.56 173.42 639.9C178.74 639.24 184.07 638.59 189.39 637.93C194.72 637.28 200.04 636.63 205.37 635.98C210.69 635.33 216.02 634.68 221.35 634.04C226.67 633.39 232 632.75 237.32 632.11C242.65 631.47 247.97 630.83 253.3 630.2C258.63 629.56 266.61 628.62 269.28 628.3" stroke="#0f4a87" stroke-width="0.95" fill="none" stroke-linecap="round" stroke-linejoin="round" stroke-dasharray="3 7.5"/>
<path d="M269.28 628.3C271.94 627.99 279.93 627.05 285.25 626.42C290.58 625.8 295.91 625.18 301.23 624.57C306.56 623.95 311.88 623.34 317.21 622.73C322.53 622.12 327.86 621.52 333.18 620.92C338.51 620.32 343.84 619.72 349.16 619.13C354.49 618.54 359.81 617.96 365.14 617.37C370.46 616.79 375.79 616.22 381.12 615.64C386.44 615.07 391.77 614.51 397.09 613.95C402.42 613.39 407.74 612.83 413.07 612.28C418.39 611.73 423.72 611.19 429.05 610.65C434.37 610.12 439.7 609.59 445.02 609.06C450.35 608.54 455.67 608.02 461 607.51C466.33 607 471.65 606.5 476.98 606C482.3 605.51 487.63 605.02 492.95 604.54C498.28 604.06 503.61 603.59 508.93 603.12C514.26 602.66 519.58 602.2 524.91 601.75C530.23 601.31 535.56 600.87 540.88 600.43C546.21 600 551.54 599.58 556.86 599.17C562.19 598.75 567.51 598.35 572.84 597.95C578.16 597.56 583.49 597.17 588.82 596.79C594.14 596.42 599.47 596.05 604.79 595.69C610.12 595.33 615.44 594.98 620.77 594.65C626.09 594.31 631.42 593.98 636.75 593.66C642.07 593.34 647.4 593.03 652.72 592.73C658.05 592.44 663.37 592.15 668.7 591.87C674.03 591.59 679.35 591.32 684.68 591.06C690 590.81 695.33 590.56 700.65 590.32C705.98 590.08 711.31 589.85 716.63 589.64C721.96 589.42 727.28 589.21 732.61 589.02C737.93 588.82 743.26 588.63 748.58 588.46C753.91 588.28 759.24 588.11 764.56 587.96C769.89 587.8 775.21 587.65 780.54 587.52C785.86 587.38 791.19 587.25 796.52 587.13C801.84 587.01 807.17 586.91 812.49 586.81C817.82 586.71 823.14 586.62 828.47 586.53C833.79 586.45 839.12 586.38 844.45 586.31C849.77 586.25 855.1 586.19 860.42 586.14C865.75 586.1 873.74 586.04 876.4 586.02" stroke="#0f4a87" stroke-width="0.95" fill="none" stroke-linecap="round" stroke-linejoin="round"/>
<path d="M45.6 658.5C58.55 656.98 97.32 652.45 123.3 649.4C149.28 646.35 178.9 642.69 201.5 640.2C224.1 637.71 249.33 635.4 258.9 634.44" stroke="#5d7fa8" stroke-width="0.95" fill="none" stroke-linecap="round" stroke-linejoin="round"/>
<path d="M45.6 658.5C58.55 656.98 97.32 652.45 123.3 649.4C149.28 646.35 178.9 642.69 201.5 640.2C224.1 637.71 249.33 635.4 258.9 634.44" stroke="#0f4a87" stroke-width="0.95" fill="none" stroke-linecap="round" stroke-linejoin="round" stroke-dasharray="3 7.5"/>
<path d="M45.6 678.8C58.55 678.5 107.1 677.4 123.3 677C139.5 676.6 139.55 676.51 142.8 676.41" stroke="#5d7fa8" stroke-width="0.95" fill="none" stroke-linecap="round" stroke-linejoin="round"/>
<path d="M45.6 678.8C58.55 678.5 107.1 677.4 123.3 677C139.5 676.6 139.55 676.51 142.8 676.41" stroke="#0f4a87" stroke-width="0.95" fill="none" stroke-linecap="round" stroke-linejoin="round" stroke-dasharray="3 7.5"/>
<path d="M45.6 689.5C58.55 689.12 107 687.68 123.3 687.2C139.6 686.72 130.37 686.87 143.4 686.6C156.43 686.33 180.4 685.93 201.5 685.6C222.6 685.27 243.85 685.08 270 684.6C296.15 684.12 331.73 683.18 358.4 682.7C385.07 682.22 418.07 681.87 430 681.7" stroke="#0f4a87" stroke-width="0.8" fill="none" stroke-linecap="round" stroke-linejoin="round" opacity="0.75"/>
<path d="M264.7 606.56C267.38 606.19 275.43 605.1 280.8 604.38C286.16 603.65 291.53 602.93 296.89 602.21C302.26 601.5 307.63 600.78 312.99 600.08C318.36 599.37 323.72 598.67 329.09 597.97C334.46 597.28 339.82 596.59 345.19 595.91C350.55 595.23 355.92 594.55 361.28 593.89C366.65 593.22 372.02 592.56 377.38 591.91C382.75 591.26 388.11 590.62 393.48 589.99C398.84 589.35 404.21 588.73 409.58 588.11C414.94 587.5 420.31 586.89 425.67 586.3C431.04 585.7 436.41 585.12 441.77 584.54C447.14 583.96 452.5 583.4 457.87 582.84C463.23 582.28 468.6 581.74 473.97 581.2C479.33 580.66 484.7 580.14 490.06 579.62C495.43 579.1 500.79 578.6 506.16 578.1C511.53 577.6 516.89 577.12 522.26 576.64C527.62 576.17 532.99 575.7 538.36 575.24C543.72 574.79 549.09 574.34 554.45 573.9C559.82 573.47 565.18 573.04 570.55 572.63C575.92 572.21 581.28 571.8 586.65 571.41C592.01 571.01 597.38 570.62 602.74 570.24C608.11 569.87 613.48 569.5 618.84 569.14C624.21 568.78 629.57 568.43 634.94 568.09C640.31 567.75 645.67 567.43 651.04 567.11C656.4 566.79 661.77 566.47 667.13 566.17C672.5 565.87 677.87 565.58 683.23 565.3C688.6 565.02 693.96 564.75 699.33 564.48C704.69 564.22 710.06 563.97 715.43 563.73C720.79 563.48 726.16 563.25 731.52 563.03C736.89 562.81 742.26 562.6 747.62 562.4C752.99 562.19 758.35 562 763.72 561.82C769.08 561.65 774.45 561.48 779.82 561.32C785.18 561.17 790.55 561.02 795.91 560.89C801.28 560.76 806.64 560.64 812.01 560.53C817.38 560.42 822.74 560.33 828.11 560.25C833.47 560.17 838.84 560.11 844.21 560.06C849.57 560.01 854.94 559.97 860.3 559.96C865.67 559.94 873.72 559.95 876.4 559.95" stroke="#0f4a87" stroke-width="2.2" fill="none" stroke-linecap="round" stroke-linejoin="round"/>
<path d="M258.9 612.05C261.59 611.73 269.65 610.8 275.02 610.17C280.4 609.53 285.77 608.89 291.15 608.24C296.52 607.59 301.9 606.94 307.27 606.28C312.65 605.63 318.02 604.97 323.4 604.32C328.77 603.67 334.15 603.01 339.52 602.37C344.9 601.72 350.27 601.07 355.65 600.43C361.02 599.79 366.4 599.16 371.77 598.53C377.15 597.91 382.52 597.29 387.89 596.67C393.27 596.06 398.64 595.46 404.02 594.87C409.39 594.28 414.77 593.69 420.14 593.12C425.52 592.54 430.89 591.98 436.27 591.43C441.64 590.88 447.02 590.34 452.39 589.81C457.77 589.27 463.14 588.76 468.52 588.25C473.89 587.74 479.27 587.24 484.64 586.76C490.02 586.27 495.39 585.79 500.76 585.33C506.14 584.87 511.51 584.41 516.89 583.97C522.26 583.53 527.64 583.1 533.01 582.68C538.39 582.26 543.76 581.85 549.14 581.44C554.51 581.04 559.89 580.65 565.26 580.27C570.64 579.89 576.01 579.52 581.39 579.16C586.76 578.79 592.14 578.44 597.51 578.09C602.89 577.75 608.26 577.41 613.64 577.09C619.01 576.76 624.38 576.44 629.76 576.13C635.13 575.82 640.51 575.51 645.88 575.22C651.26 574.92 656.63 574.63 662.01 574.35C667.38 574.07 672.76 573.8 678.13 573.54C683.51 573.27 688.88 573.02 694.26 572.77C699.63 572.52 705.01 572.28 710.38 572.05C715.76 571.82 721.13 571.6 726.51 571.39C731.88 571.18 737.25 570.97 742.63 570.78C748 570.59 753.38 570.41 758.75 570.24C764.13 570.07 769.5 569.91 774.88 569.76C780.25 569.62 785.63 569.48 791 569.37C796.38 569.25 801.75 569.15 807.13 569.06C812.5 568.98 817.88 568.91 823.25 568.86C828.63 568.82 834 568.79 839.38 568.79C844.75 568.79 852.81 568.84 855.5 568.85" stroke="#0f4a87" stroke-width="3.4" fill="none" stroke-linecap="round" stroke-linejoin="round"/>
<path d="M258.9 634.44C261.58 634.16 269.63 633.33 274.99 632.76C280.36 632.19 285.72 631.61 291.08 631.02C296.45 630.43 301.81 629.84 307.18 629.24C312.54 628.64 317.9 628.04 323.27 627.44C328.63 626.84 334 626.23 339.36 625.63C344.72 625.03 350.09 624.42 355.45 623.83C360.82 623.23 366.18 622.63 371.54 622.05C376.91 621.46 382.27 620.87 387.64 620.29C393 619.72 398.36 619.14 403.73 618.58C409.09 618.02 414.45 617.46 419.82 616.91C425.18 616.37 430.55 615.83 435.91 615.3C441.27 614.77 446.64 614.25 452 613.74C457.37 613.23 462.73 612.73 468.09 612.24C473.46 611.75 478.82 611.27 484.19 610.8C489.55 610.33 494.91 609.87 500.28 609.42C505.64 608.98 511.01 608.54 516.37 608.11C521.73 607.68 527.1 607.27 532.46 606.86C537.83 606.46 543.19 606.06 548.55 605.68C553.92 605.29 559.28 604.92 564.65 604.55C570.01 604.19 575.37 603.83 580.74 603.48C586.1 603.14 591.47 602.8 596.83 602.48C602.19 602.15 607.56 601.83 612.92 601.52C618.29 601.22 623.65 600.92 629.01 600.63C634.38 600.34 639.74 600.05 645.11 599.78C650.47 599.51 655.83 599.24 661.2 598.98C666.56 598.73 671.93 598.48 677.29 598.24C682.65 598 688.02 597.76 693.38 597.54C698.75 597.31 704.11 597.1 709.47 596.89C714.84 596.68 720.2 596.48 725.56 596.29C730.93 596.1 736.29 595.91 741.66 595.74C747.02 595.56 752.38 595.4 757.75 595.24C763.11 595.09 768.48 594.94 773.84 594.8C779.2 594.67 784.57 594.54 789.93 594.42C795.3 594.31 800.66 594.2 806.02 594.11C811.39 594.02 816.75 593.94 822.12 593.87C827.48 593.81 832.84 593.75 838.21 593.72C843.57 593.68 851.62 593.67 854.3 593.66" stroke="#0f4a87" stroke-width="2.2" fill="none" stroke-linecap="round" stroke-linejoin="round"/>
<path d="M142.8 676.41C145.46 676.32 153.44 676.03 158.76 675.84C164.07 675.66 169.39 675.48 174.71 675.3C180.03 675.13 185.35 674.96 190.67 674.79C195.99 674.63 201.3 674.47 206.62 674.32C211.94 674.16 217.26 674.02 222.58 673.87C227.9 673.73 233.21 673.59 238.53 673.46C243.85 673.33 249.17 673.2 254.49 673.08C259.81 672.95 265.13 672.84 270.44 672.73C275.76 672.61 281.08 672.51 286.4 672.41C291.72 672.31 297.04 672.21 302.36 672.12C307.67 672.03 312.99 671.95 318.31 671.87C323.63 671.79 328.95 671.71 334.27 671.65C339.59 671.58 344.9 671.51 350.22 671.46C355.54 671.4 360.86 671.35 366.18 671.3C371.5 671.25 376.81 671.21 382.13 671.18C387.45 671.14 392.77 671.11 398.09 671.09C403.41 671.06 408.73 671.04 414.04 671.03C419.36 671.02 427.34 671.01 430 671.01" stroke="#0f4a87" stroke-width="2.2" fill="none" stroke-linecap="round" stroke-linejoin="round"/>
<path d="M45.6 661.8C81.33 661.82 224.27 661.88 260 661.9" stroke="#000" stroke-width="1.15" fill="none" stroke-linecap="round" stroke-linejoin="round"/>
<path d="M45.6 686.2C61.8 686.17 126.6 686.03 142.8 686" stroke="#000" stroke-width="0.8" fill="none" stroke-linecap="round" stroke-linejoin="round"/>
<path d="M266.05 660.51C268.81 660.56 277.06 660.72 282.56 660.8C288.06 660.87 293.57 660.92 299.07 660.95C304.57 660.98 310.07 660.99 315.58 660.98C321.08 660.98 326.58 660.96 332.08 660.93C337.59 660.89 343.09 660.84 348.59 660.79C354.09 660.73 359.6 660.66 365.1 660.58C370.6 660.51 376.1 660.42 381.61 660.32C387.11 660.23 392.61 660.13 398.11 660.02C403.62 659.91 409.12 659.79 414.62 659.67C420.12 659.55 425.62 659.43 431.13 659.3C436.63 659.16 442.13 659.03 447.63 658.89C453.14 658.75 458.64 658.6 464.14 658.45C469.64 658.3 475.15 658.14 480.65 657.98C486.15 657.82 491.65 657.65 497.16 657.48C502.66 657.31 508.16 657.13 513.66 656.94C519.17 656.75 524.67 656.56 530.17 656.36C535.67 656.15 541.18 655.94 546.68 655.72C552.18 655.5 557.68 655.27 563.19 655.02C568.69 654.77 574.19 654.52 579.69 654.24C585.2 653.97 590.7 653.69 596.2 653.38C601.7 653.08 607.2 652.76 612.71 652.41C618.21 652.07 623.71 651.71 629.21 651.33C634.72 650.94 640.22 650.54 645.72 650.1C651.22 649.67 656.73 649.21 662.23 648.72C667.73 648.22 673.23 647.71 678.74 647.15C684.24 646.6 689.74 646.01 695.24 645.38C700.75 644.75 706.25 644.09 711.75 643.39C717.25 642.68 722.76 641.93 728.26 641.14C733.76 640.34 739.26 639.5 744.77 638.61C750.27 637.71 755.77 636.77 761.27 635.77C766.78 634.76 772.28 633.71 777.78 632.59C783.28 631.47 788.78 630.29 794.29 629.04C799.79 627.79 805.29 626.48 810.79 625.09C816.3 623.7 821.8 622.24 827.3 620.7C832.8 619.16 838.31 617.54 843.81 615.84C849.31 614.14 854.81 612.36 860.32 610.48C865.82 608.6 874.07 605.55 876.82 604.57" stroke="#000" stroke-width="1.6" fill="none" stroke-linecap="round" stroke-linejoin="round"/>
<path d="M260.4 662.28C263.08 662.33 271.12 662.48 276.48 662.55C281.85 662.62 287.21 662.66 292.57 662.69C297.93 662.72 303.29 662.73 308.65 662.73C314.01 662.72 319.37 662.7 324.74 662.67C330.1 662.64 335.46 662.59 340.82 662.54C346.18 662.49 351.54 662.42 356.9 662.35C362.26 662.27 367.63 662.19 372.99 662.1C378.35 662.01 383.71 661.92 389.07 661.81C394.43 661.71 399.79 661.6 405.15 661.49C410.52 661.37 415.88 661.25 421.24 661.13C426.6 661.01 431.96 660.88 437.32 660.75C442.68 660.61 448.04 660.47 453.41 660.33C458.77 660.19 464.13 660.04 469.49 659.89C474.85 659.74 480.21 659.58 485.57 659.42C490.93 659.25 496.3 659.08 501.66 658.91C507.02 658.73 512.38 658.55 517.74 658.35C523.1 658.16 528.46 657.96 533.82 657.75C539.19 657.54 544.55 657.32 549.91 657.09C555.27 656.86 560.63 656.62 565.99 656.36C571.35 656.1 576.71 655.83 582.08 655.54C587.44 655.26 592.8 654.95 598.16 654.63C603.52 654.31 608.88 653.97 614.24 653.6C619.6 653.24 624.97 652.86 630.33 652.44C635.69 652.03 641.05 651.6 646.41 651.14C651.77 650.67 657.13 650.18 662.49 649.66C667.86 649.13 673.22 648.58 678.58 647.99C683.94 647.39 689.3 646.77 694.66 646.1C700.02 645.43 705.38 644.73 710.75 643.98C716.11 643.22 721.47 642.43 726.83 641.58C732.19 640.74 737.55 639.85 742.91 638.9C748.27 637.95 753.64 636.96 759 635.9C764.36 634.84 769.72 633.73 775.08 632.55C780.44 631.36 785.8 630.13 791.16 628.81C796.53 627.5 801.89 626.12 807.25 624.67C812.61 623.21 817.97 621.69 823.33 620.08C828.69 618.47 834.05 616.78 839.42 615.01C844.78 613.23 852.82 610.36 855.5 609.43" stroke="#000" stroke-width="3.6" fill="none" stroke-linecap="round" stroke-linejoin="round"/>
<path d="M142.8 686C152.58 685.97 178.72 685.97 201.5 685.8C224.28 685.63 253.35 685.73 279.5 685C305.65 684.27 338.82 682.58 358.4 681.4C377.98 680.22 385.07 679.33 397 677.9C408.93 676.47 424.5 673.65 430 672.8" stroke="#000" stroke-width="2.2" fill="none" stroke-linecap="round" stroke-linejoin="round"/>
<circle cx="592.7" cy="170.9" r="6.5" fill="#ffff00" stroke="#ff0000" stroke-width="1.5"/>
<path d="M586.2 170.85H592.6" stroke="#5c6064" stroke-opacity="0.55" stroke-width="1.6" fill="none"/>
<path d="M592.6 170.85V177.6" stroke="#54575a" stroke-width="1.2" fill="none"/>
<path d="M587 175L592.7 170.9" stroke="#ff0000" stroke-width="0.8" fill="none"/>
<circle cx="592.7" cy="210.1" r="6.2" fill="#ff0000"/>
<circle cx="592.7" cy="248.3" r="6.2" fill="#ff0000"/>
<circle cx="592.7" cy="578.5" r="6.2" fill="#ff0000"/>
<circle cx="592.7" cy="602.5" r="6.2" fill="#ff0000"/>
<circle cx="592.7" cy="654.7" r="6.2" fill="#ff0000"/>
<path d="M45.65 0.4H959" stroke="#909090" stroke-width="1.3" fill="none"/>
<path d="M45.65 517.9H959" stroke="#9a9c9e" stroke-width="1.7" fill="none"/>
<path d="M45.45 0V391.4" stroke="#000" stroke-width="1.8" fill="none"/>
<path d="M959.05 0V391.4" stroke="#000" stroke-width="2.1" fill="none"/>
<path d="M38 390.5H966.4" stroke="#000" stroke-width="1.6" fill="none"/>
<path d="M38 357.98H45.65M959 357.98H966.4M38 325.46H45.65M959 325.46H966.4M38 292.94H45.65M959 292.94H966.4M38 260.42H45.65M959 260.42H966.4M38 227.9H45.65M959 227.9H966.4M38 195.38H45.65M959 195.38H966.4M38 162.86H45.65M959 162.86H966.4M38 130.34H45.65M959 130.34H966.4M38 97.82H45.65M959 97.82H966.4M38 65.3H45.65M959 65.3H966.4" stroke="#000" stroke-width="1.7" fill="none"/>
<path d="M45.65 390.5V398M123.82 390.5V398M201.99 390.5V398M280.16 390.5V398M358.33 390.5V398M436.5 390.5V398M514.67 390.5V398M592.84 390.5V398M671.01 390.5V398M749.18 390.5V398M827.35 390.5V398M905.52 390.5V398" stroke="#000" stroke-width="1.7" fill="none"/>
<path d="M45.4 517.1V693.1" stroke="#000" stroke-width="1.4" fill="none"/>
<path d="M959.08 517.1V693.1" stroke="#000" stroke-width="2.0" fill="none"/>
<path d="M38 692.45H966.4" stroke="#000" stroke-width="1.3" fill="none"/>
<path d="M38 673.11H45.65M959 673.11H966.4M38 653.72H45.65M959 653.72H966.4M38 634.33H45.65M959 634.33H966.4M38 614.94H45.65M959 614.94H966.4M38 595.55H45.65M959 595.55H966.4M38 576.16H45.65M959 576.16H966.4M38 556.77H45.65M959 556.77H966.4M38 537.38H45.65M959 537.38H966.4" stroke="#000" stroke-width="1.35" fill="none"/>
<rect x="805.4" y="-2" width="153.6" height="30.3" fill="#fff" stroke="#7a7a7a" stroke-width="1"/>
<path d="M959.05 0V30" stroke="#000" stroke-width="2.1" fill="none"/>
<text x="810.8" y="19.3" letter-spacing="0.42">CRE 3-2, 1*230 V</text>
<text x="24.5" y="14.8" text-anchor="middle">H</text>
<text x="24.1" y="34.5" text-anchor="middle">[m]</text>
<text x="981.2" y="14.8" text-anchor="middle">eta</text>
<text x="981.4" y="34.5" text-anchor="middle">[%]</text>
<text x="32.2" y="395.3" text-anchor="end">0</text>
<text x="970.8" y="395.3">0</text>
<text x="32.2" y="362.78" text-anchor="end">2</text>
<text x="970.8" y="362.78">10</text>
<text x="32.2" y="330.26" text-anchor="end">4</text>
<text x="970.8" y="330.26">20</text>
<text x="32.2" y="297.74" text-anchor="end">6</text>
<text x="970.8" y="297.74">30</text>
<text x="32.2" y="265.22" text-anchor="end">8</text>
<text x="970.8" y="265.22">40</text>
<text x="32.2" y="232.7" text-anchor="end">10</text>
<text x="970.8" y="232.7">50</text>
<text x="32.2" y="200.18" text-anchor="end">12</text>
<text x="970.8" y="200.18">60</text>
<text x="32.2" y="167.66" text-anchor="end">14</text>
<text x="970.8" y="167.66">70</text>
<text x="32.2" y="135.14" text-anchor="end">16</text>
<text x="970.8" y="135.14">80</text>
<text x="32.2" y="102.62" text-anchor="end">18</text>
<text x="970.8" y="102.62">90</text>
<text x="32.2" y="70.1" text-anchor="end">20</text>
<text x="970.8" y="70.1">100</text>
<text x="44.87" y="412.6" text-anchor="middle">0</text>
<text x="122.9" y="412.6" text-anchor="middle">0.5</text>
<text x="200.93" y="412.6" text-anchor="middle">1.0</text>
<text x="278.96" y="412.6" text-anchor="middle">1.5</text>
<text x="356.99" y="412.6" text-anchor="middle">2.0</text>
<text x="435.02" y="412.6" text-anchor="middle">2.5</text>
<text x="513.05" y="412.6" text-anchor="middle">3.0</text>
<text x="591.08" y="412.6" text-anchor="middle">3.5</text>
<text x="669.11" y="412.6" text-anchor="middle">4.0</text>
<text x="747.14" y="412.6" text-anchor="middle">4.5</text>
<text x="825.17" y="412.6" text-anchor="middle">5.0</text>
<text x="888.1" y="412.6" letter-spacing="0.1">Q [m<tspan font-size="9" dy="-6.2" dx="0.7" stroke="#000" stroke-width="0.35">3</tspan><tspan dy="6.2" dx="0.8">/h]</tspan></text>
<text x="79" y="81.6" letter-spacing="0.1">100 %</text>
<text x="78" y="97.7" letter-spacing="0.1">97 %</text>
<text x="66" y="322.5" letter-spacing="0.1">45 %</text>
<text x="48" y="439.1" letter-spacing="0.4">Q = 3.5 m<tspan font-size="9" dy="-6.2" dx="0.7" stroke="#000" stroke-width="0.35">3</tspan><tspan dy="6.2" dx="0.8">/h</tspan></text>
<text x="48" y="460.7" letter-spacing="0.4">n = 98 % / 3367 rpm</text>
<text x="48" y="482.3" letter-spacing="0.4">Liquid temperature during operation = 20 &#176;C</text>
<text x="48" y="503.9" letter-spacing="0.4">Eta pump = 55.5 %</text>
<text x="433" y="439.1" letter-spacing="0.4">H = 13.5 m</text>
<text x="433" y="460.7" letter-spacing="0.4">Pumped liquid = Water</text>
<text x="433" y="482.3" letter-spacing="0.4">Density = 998.2 kg/m<tspan font-size="9" dy="-6.2" dx="0.7" stroke="#000" stroke-width="0.35">3</tspan><tspan dy="6.2" dx="0.8"></tspan></text>
<text x="433" y="503.9" letter-spacing="0.44">Eta pump+motor+freq.converter = 43.8 %</text>
<text x="22.2" y="532.6" text-anchor="middle">P</text>
<text x="22.3" y="552.6" text-anchor="middle">[W]</text>
<text x="990.6" y="533" text-anchor="middle" letter-spacing="0.15">NPSH</text>
<text x="989.8" y="553" text-anchor="middle" letter-spacing="0.15">[m]</text>
<text x="32.2" y="697.3" text-anchor="end">0</text>
<text x="970.8" y="697.3">0</text>
<text x="32.2" y="677.91" text-anchor="end">50</text>
<text x="970.8" y="677.91">1</text>
<text x="32.2" y="658.52" text-anchor="end">100</text>
<text x="970.8" y="658.52">2</text>
<text x="32.2" y="639.13" text-anchor="end">150</text>
<text x="970.8" y="639.13">3</text>
<text x="32.2" y="619.74" text-anchor="end">200</text>
<text x="970.8" y="619.74">4</text>
<text x="32.2" y="600.35" text-anchor="end">250</text>
<text x="970.8" y="600.35">5</text>
<text x="32.2" y="580.96" text-anchor="end">300</text>
<text x="970.8" y="580.96">6</text>
<text x="668.3" y="553.8" fill="#1a5089" letter-spacing="0.48">P1 (motor+freq.converter)</text>
<text x="851.5" y="602.5" fill="#1a5089">P2</text>
<text x="48" y="719.3" letter-spacing="0.49">P1 (motor+freq.converter) = 293.6 W</text>
<text x="48" y="740.9" letter-spacing="0.4">P2 = 231.6 W</text>
<text x="48" y="762.5" letter-spacing="0.4">NPSH = 1.94 m</text>
</svg>
</body></html>
